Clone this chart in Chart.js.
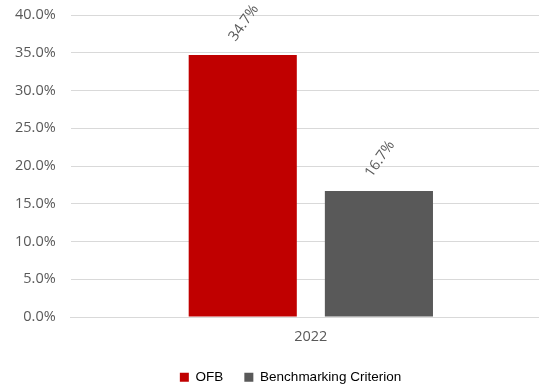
<!DOCTYPE html>
<html>
<head>
<meta charset="utf-8">
<script src="https://cdn.jsdelivr.net/npm/chart.js@4/dist/chart.umd.min.js"></script>
<style>
  html, body { margin: 0; padding: 0; background: #fff; overflow: hidden; }
  #wrap { width: 539px; height: 385px; overflow: hidden; }
  #c { display: block; }
</style>
</head>
<body>
<div id="wrap"><canvas id="c" width="551" height="385"></canvas></div>
<script>
const categories = ['2022'];
const seriesNames = ['OFB', 'Benchmarking Criterion'];
const ofbValues = [34.7];
const benchmarkValues = [16.7];
const seriesColors = ['#C00000', '#595959'];

const tickFont = { family: "'Open Sans', 'DejaVu Sans', sans-serif", size: 14.5 };
const legendFont = { family: "'Liberation Sans', Arial, sans-serif", size: 13.5 };

// Rotated value labels above each bar
const valueLabels = {
  id: 'valueLabels',
  afterDatasetsDraw(chart) {
    const ctx = chart.ctx;
    chart.data.datasets.forEach((ds, di) => {
      chart.getDatasetMeta(di).data.forEach((bar, i) => {
        ctx.save();
        ctx.translate(bar.x + 1, bar.y - 32);
        ctx.rotate(-55 * Math.PI / 180);
        ctx.font = `${tickFont.size}px ${tickFont.family}`;
        ctx.fillStyle = '#595959';
        ctx.textAlign = 'center';
        ctx.textBaseline = 'middle';
        ctx.fillText(ds.data[i].toFixed(1) + '%', 0, 0);
        ctx.restore();
      });
    });
  }
};

// Nudge the legend a little right and up
const legendOffset = {
  id: 'legendOffset',
  afterLayout(chart) {
    const l = chart.legend;
    l.left += 15; l.right += 15;
    l.top -= 7; l.bottom -= 7;
  }
};

new Chart(document.getElementById('c'), {
  type: 'bar',
  data: {
    labels: categories,
    datasets: [
      { label: seriesNames[0], data: ofbValues, backgroundColor: seriesColors[0] },
      { label: seriesNames[1], data: benchmarkValues, backgroundColor: seriesColors[1] }
    ]
  },
  options: {
    responsive: false,
    animation: false,
    categoryPercentage: 0.567,
    barPercentage: 0.794,
    layout: { padding: { top: 15, right: 0, left: 0, bottom: -16 } },
    scales: {
      y: {
        min: 0, max: 40,
        afterFit(scale) { scale.paddingTop = 0; },
        ticks: {
          stepSize: 5,
          color: '#595959',
          font: tickFont,
          padding: 15,
          callback: v => v.toFixed(1) + '%'
        },
        grid: { color: '#d9d9d9', drawTicks: false },
        border: { display: false }
      },
      x: {
        ticks: { color: '#595959', font: tickFont, padding: 11 },
        grid: { display: false, drawTicks: false },
        border: { color: '#d9d9d9' }
      }
    },
    plugins: {
      legend: {
        position: 'bottom',
        labels: {
          boxWidth: 9, boxHeight: 9,
          color: '#000',
          font: legendFont,
          padding: 21
        }
      },
      tooltip: { enabled: false }
    }
  },
  plugins: [valueLabels, legendOffset]
});
</script>
</body>
</html>
